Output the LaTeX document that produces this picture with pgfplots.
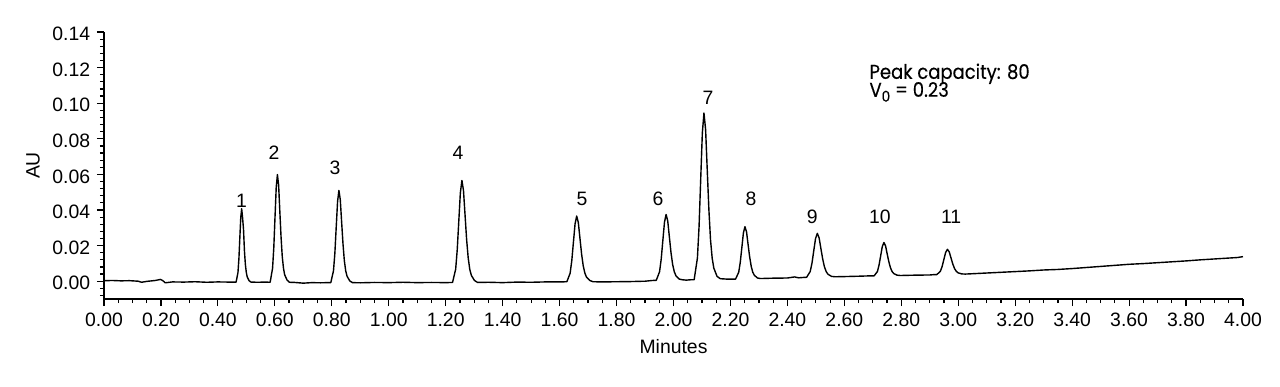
\documentclass[border=0pt]{standalone}
\usepackage{fontspec}
\setmainfont{Liberation Sans}
\newfontfamily\futura[FakeBold=0.3, FakeStretch=0.9]{Poppins}
\usepackage{pgfplots}
\pgfplotsset{compat=1.18}
\begin{document}
\fontsize{9.7}{11.6}\selectfont
\begin{tikzpicture}
\begin{axis}[
  scale only axis, width=569.5pt, height=133.5pt,
  xmin=0, xmax=4, ymin=-0.01, ymax=0.14,
  axis lines*=left,
  axis line style={line width=0.7pt},
  tick align=outside,
  tick style={black, line width=0.6pt},
  major tick length=3.5pt, minor tick length=2pt,
  xtick={0,0.2,0.4,0.6,0.8,1.0,1.2,1.4,1.6,1.8,2.0,2.2,2.4,2.6,2.8,3.0,3.2,3.4,3.6,3.8,4.0},
  minor x tick num=3,
  ytick={0,0.02,0.04,0.06,0.08,0.10,0.12,0.14},
  minor ytick={-0.008,-0.004,0.004,0.008,0.012,0.016,0.024,0.028,0.032,0.036,0.044,0.048,0.052,0.056,0.064,0.068,0.072,0.076,0.084,0.088,0.092,0.096,0.104,0.108,0.112,0.116,0.124,0.128,0.132,0.136},
  scaled ticks=false,
  /pgf/number format/assume math mode=true,
  xticklabel style={/pgf/number format/.cd, fixed, fixed zerofill, precision=2},
  yticklabel style={yshift=-1pt, /pgf/number format/.cd, fixed, fixed zerofill, precision=2},
  xlabel={Minutes}, ylabel={AU},
  xlabel style={at={(rel axis cs:0.5,0)}, anchor=center, yshift=-24pt},
  ylabel style={at={(rel axis cs:0,0.5)}, anchor=center, yshift=35.5pt},
  clip=false,
]
\addplot[black, line width=0.7pt, line join=round] coordinates {
(0.000,0.0003) (0.030,0.0004) (0.060,0.0002) (0.090,0.0003) (0.120,0.0000) (0.132,-0.0006) (0.150,-0.0001) (0.180,0.0004) (0.198,0.0010) (0.206,0.0004) (0.215,-0.0009) (0.240,-0.0004) (0.280,-0.0005) (0.320,-0.0003) (0.360,-0.0006) (0.400,-0.0004) (0.440,-0.0005)
(0.4640,-0.0005) (0.4705,0.0049) (0.4738,0.0127) (0.4770,0.0242) (0.4803,0.0358) (0.4835,0.0407) (0.4868,0.0355) (0.4900,0.0290) (0.4933,0.0168) (0.4965,0.0094) (0.4998,0.0049) (0.5030,0.0024) (0.5095,0.0003) (0.5160,-0.0005)
(0.540,-0.0006) (0.565,-0.0005)
(0.5835,-0.0006) (0.5920,0.0073) (0.5963,0.0188) (0.6005,0.0357) (0.6048,0.0526) (0.6090,0.0599) (0.6133,0.0539) (0.6175,0.0393) (0.6218,0.0248) (0.6260,0.0139) (0.6303,0.0073) (0.6345,0.0036) (0.6430,0.0006) (0.6515,-0.0006)
(0.670,-0.0007) (0.700,-0.0011) (0.730,-0.0008) (0.760,-0.0009) (0.785,-0.0008)
(0.7965,-0.0008) (0.8060,0.0059) (0.8108,0.0158) (0.8155,0.0303) (0.8203,0.0448) (0.8250,0.0510) (0.8298,0.0458) (0.8345,0.0334) (0.8393,0.0210) (0.8440,0.0116) (0.8488,0.0059) (0.8535,0.0028) (0.8630,0.0002) (0.8725,-0.0008)
(0.900,-0.0009) (0.950,-0.0007) (1.000,-0.0008) (1.050,-0.0006) (1.100,-0.0008) (1.150,-0.0007) (1.200,-0.0008)
(1.2240,-0.0007) (1.2350,0.0067) (1.2405,0.0176) (1.2460,0.0337) (1.2515,0.0497) (1.2570,0.0566) (1.2625,0.0509) (1.2680,0.0371) (1.2735,0.0234) (1.2790,0.0131) (1.2845,0.0067) (1.2900,0.0033) (1.3010,0.0004) (1.3120,-0.0007)
(1.350,-0.0006) (1.400,-0.0008) (1.450,-0.0005) (1.500,-0.0006) (1.550,-0.0004) (1.600,-0.0004)
(1.6255,-0.0003) (1.6370,0.0045) (1.6428,0.0115) (1.6485,0.0218) (1.6543,0.0322) (1.6600,0.0366) (1.6658,0.0329) (1.6715,0.0241) (1.6773,0.0152) (1.6830,0.0086) (1.6888,0.0045) (1.6945,0.0023) (1.7060,0.0004) (1.7175,-0.0003)
(1.750,-0.0004) (1.800,-0.0003) (1.850,-0.0002) (1.900,0.0000) (1.925,0.0004)
(1.9395,0.0005) (1.9510,0.0053) (1.9568,0.0123) (1.9625,0.0227) (1.9683,0.0331) (1.9740,0.0375) (1.9798,0.0338) (1.9855,0.0249) (1.9913,0.0160) (1.9970,0.0094) (2.0028,0.0053) (2.0085,0.0031) (2.0200,0.0012) (2.0315,0.0008)
(2.045,0.0006) (2.060,0.0008)
(2.0725,0.0008) (2.0840,0.0130) (2.0898,0.0308) (2.0955,0.0570) (2.1013,0.0833) (2.1070,0.0945) (2.1128,0.0851) (2.1185,0.0626) (2.1243,0.0402) (2.1300,0.0233) (2.1358,0.0130) (2.1415,0.0074) (2.1530,0.0027) (2.1645,0.0014)
(2.185,0.0012) (2.205,0.0012)
(2.2180,0.0012) (2.2290,0.0050) (2.2345,0.0106) (2.2400,0.0188) (2.2455,0.0271) (2.2510,0.0306) (2.2565,0.0277) (2.2620,0.0206) (2.2675,0.0136) (2.2730,0.0083) (2.2785,0.0050) (2.2840,0.0033) (2.2950,0.0018) (2.3060,0.0015)
(2.350,0.0017) (2.400,0.0018) (2.425,0.0024) (2.440,0.0019) (2.455,0.0021)
(2.4675,0.0022) (2.4800,0.0054) (2.4863,0.0101) (2.4925,0.0170) (2.4988,0.0239) (2.5050,0.0269) (2.5113,0.0244) (2.5175,0.0185) (2.5238,0.0126) (2.5300,0.0081) (2.5363,0.0054) (2.5425,0.0039) (2.5550,0.0027) (2.5675,0.0025)
(2.600,0.0026) (2.650,0.0028) (2.690,0.0030)
(2.7045,0.0030) (2.7160,0.0054) (2.7218,0.0090) (2.7275,0.0142) (2.7333,0.0195) (2.7390,0.0217) (2.7448,0.0198) (2.7505,0.0153) (2.7563,0.0109) (2.7620,0.0075) (2.7678,0.0054) (2.7735,0.0043) (2.7850,0.0034) (2.7965,0.0032)
(2.850,0.0034) (2.900,0.0035) (2.915,0.0037)
(2.9245,0.0037) (2.9370,0.0055) (2.9433,0.0082) (2.9495,0.0122) (2.9558,0.0162) (2.9620,0.0179) (2.9683,0.0165) (2.9745,0.0131) (2.9808,0.0097) (2.9870,0.0071) (2.9933,0.0055) (2.9995,0.0047) (3.0120,0.0041) (3.0245,0.0040)
(3.050,0.0042) (3.100,0.0046) (3.150,0.0050) (3.200,0.0054) (3.250,0.0058) (3.300,0.0063) (3.350,0.0066) (3.400,0.0071) (3.450,0.0077) (3.500,0.0083) (3.550,0.0089) (3.600,0.0095) (3.650,0.0099) (3.700,0.0104) (3.750,0.0109) (3.800,0.0114) (3.850,0.0120) (3.900,0.0125) (3.950,0.0130) (3.980,0.0133) (4.000,0.0138)
};
\node at (axis cs:0.483,0.0449) {1};
\node at (axis cs:0.597,0.0723) {2};
\node at (axis cs:0.811,0.0639) {3};
\node at (axis cs:1.243,0.0723) {4};
\node at (axis cs:1.679,0.0465) {5};
\node at (axis cs:1.946,0.0465) {6};
\node at (axis cs:2.121,0.1031) {7};
\node at (axis cs:2.272,0.0465) {8};
\node at (axis cs:2.487,0.0359) {9};
\node at (axis cs:2.725,0.0359) {10};
\node at (axis cs:2.975,0.0359) {11};
\node[anchor=base west, inner sep=0pt, font=\futura\fontsize{10}{12}\selectfont] at (axis cs:2.687,0.1137) {Peak capacity: 80};
\node[anchor=base west, inner sep=0pt, font=\futura\fontsize{10}{12}\selectfont] at (axis cs:2.687,0.1036) {V\raisebox{-0.45ex}{\fontsize{7.5}{7.5}\selectfont 0} = 0.23};
\end{axis}
\pgfresetboundingbox
\path[use as bounding box] (-52pt,-43.5pt) rectangle (588pt,149.5pt);
\end{tikzpicture}
\end{document}
